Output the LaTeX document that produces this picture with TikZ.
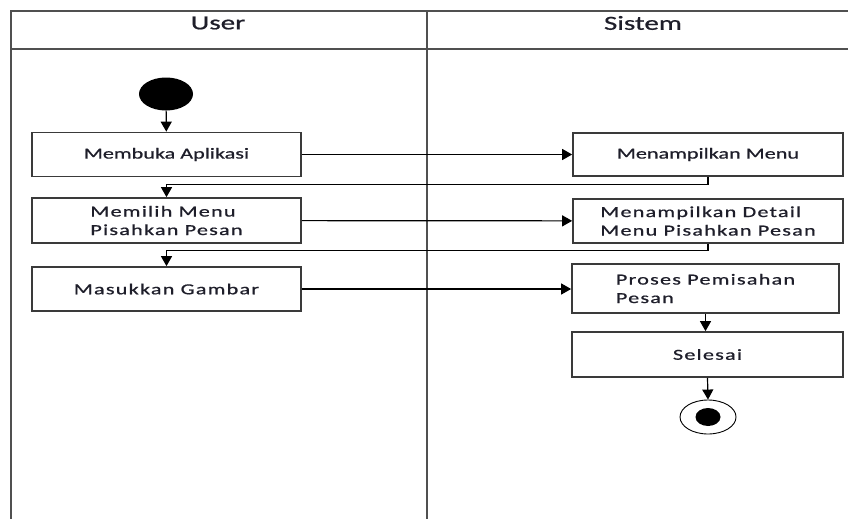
\documentclass[tikz,border=0pt]{standalone}
\usepackage{fontspec}
\setmainfont[FakeStretch=1.45,FakeBold=0.8]{Carlito}
\newfontfamily\widefont[FakeStretch=1.45,FakeBold=0.8,LetterSpace=8]{Carlito}
\usetikzlibrary{arrows.meta,shapes.geometric}
\definecolor{framegray}{HTML}{505050}
\definecolor{boxgray}{HTML}{3A3A3A}
\definecolor{ink}{HTML}{1E1E2A}
\begin{document}
\begin{tikzpicture}[x=1pt,y=-1pt,
  frame/.style={draw=framegray,line width=1.8pt},
  actbox/.style={draw=boxgray,line width=1.7pt,rectangle,inner sep=0pt,
    text=ink,align=left,font=\fontsize{15.3}{18.5}\selectfont},
  lanehead/.style={text=ink,font=\fontsize{20}{23}\selectfont},
  flow/.style={draw=black,line width=1.2pt,-{Triangle[length=10pt,width=11pt]}},
]
\useasboundingbox (0,0) rectangle (848,519);

% swimlane frame
\draw[frame] (848,11) -- (11,11) -- (11,519);
\draw[frame] (11,49) -- (848,49);
\draw[frame] (427,11) -- (427,519);
\node[lanehead] (laneuser) at (218,23) {User};
\node[lanehead] (lanesys) at (643,23) {Sistem};

% start and end points
\node[ellipse,fill=black,inner sep=0pt,minimum width=54pt,minimum height=33pt] (start) at (166,94) {};
\node[ellipse,draw=black,line width=0.9pt,inner sep=0pt,minimum width=56pt,minimum height=34pt] (stop) at (708,417) {};
\node[ellipse,fill=black,inner sep=0pt,minimum width=25pt,minimum height=18pt] (stopdot) at (stop.center) {};

% user activities
\node[actbox,minimum width=269pt,minimum height=44pt] (b1) at (166.5,154.5) {Membuka Aplikasi};
\node[actbox,minimum width=269pt,minimum height=45pt] (b2) at (166.5,220.5)
  {\widefont Memilih Menu\\\widefont Pisahkan Pesan};
\node[actbox,minimum width=269pt,minimum height=44pt] (b3) at (166.5,289) {\widefont Masukkan Gambar};

% system activities
\node[actbox,minimum width=270pt,minimum height=43pt] (r1) at (708,154.5) {Menampilkan Menu};
\node[actbox,minimum width=270pt,minimum height=44pt] (r2) at (708,221)
  {\widefont Menampilkan Detail\\\widefont Menu Pisahkan Pesan};
\node[actbox,minimum width=267pt,minimum height=49pt] (r3) at (705.5,288.5)
  {\widefont Proses Pemisahan\\\widefont Pesan\hphantom{ Pemisahan}};
\node[actbox,minimum width=271pt,minimum height=45pt] (r4) at (707.5,354.5) {\widefont Selesai};

% control flow
\draw[flow] (start) -- (b1);
\draw[flow] (b1) -- (r1);
\draw[flow] (r1.south) -- ++(0,8) -| (b2.north);
\draw[flow] (b2) -- (r2);
\draw[flow] (r2.south) -- ++(0,7) -| (b3.north);
\draw[flow] (b3) -- (b3 -| r3.west);
\draw[flow] (r3.south) -- (r3.south |- r4.north);
\draw[flow] (r4.south) -- (stop.north);
\end{tikzpicture}
\end{document}
